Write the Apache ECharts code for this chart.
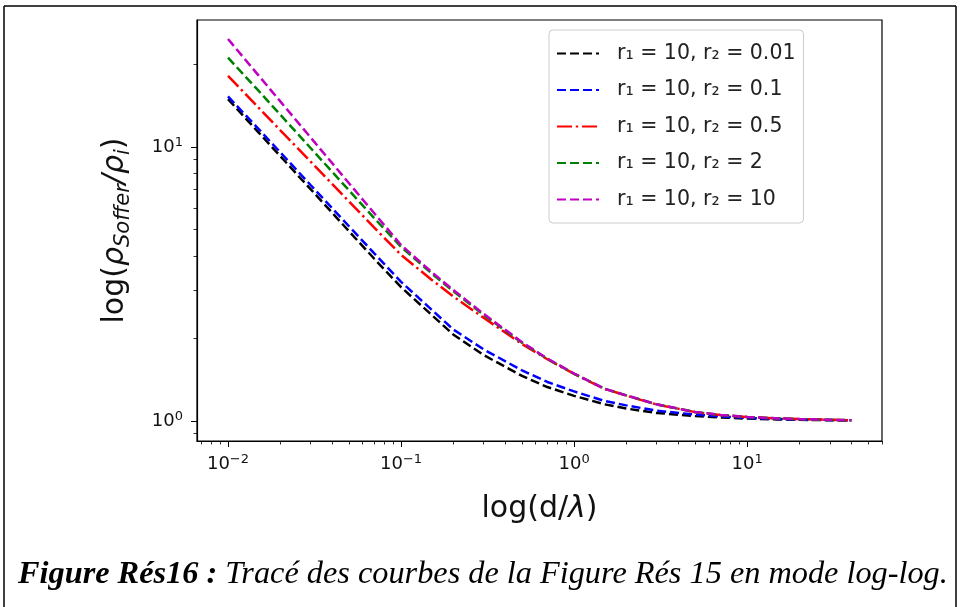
<!DOCTYPE html>
<html><head><meta charset="utf-8">
<script src="https://cdn.jsdelivr.net/npm/echarts@6/dist/echarts.min.js"></script>
<style>html,body{margin:0;padding:0;background:#fff}#c{width:960px;height:607px}</style>
</head><body><div id="c"></div>
<script>
const xValues = [0.01,0.015,0.02,0.03,0.05,0.07,0.1,0.15,0.2,0.3,0.5,0.7,1,1.5,2,3,5,7,10,15,20,30,40];
const seriesNames = ['r₁ = 10, r₂ = 0.01','r₁ = 10, r₂ = 0.1','r₁ = 10, r₂ = 0.5','r₁ = 10, r₂ = 2','r₁ = 10, r₂ = 10'];
const black   = [14.96,11.32,9.28,7.02,4.93,3.91,3.08,2.44,2.07,1.74,1.46,1.33,1.235,1.15,1.11,1.07,1.042,1.03,1.02,1.013,1.01,1.006,1.004];
const blue    = [15.3,11.65,9.58,7.27,5.14,4.09,3.22,2.55,2.16,1.825,1.53,1.388,1.282,1.183,1.14,1.09,1.055,1.038,1.025,1.017,1.013,1.008,1.005];
const red     = [18.2,13.93,11.53,8.85,6.33,5.08,4.04,3.28,2.85,2.38,1.91,1.68,1.485,1.31,1.238,1.148,1.077,1.051,1.033,1.022,1.016,1.01,1.006];
const green   = [21.2,16.06,13.15,9.92,6.95,5.50,4.32,3.46,2.98,2.44,1.93,1.685,1.487,1.31,1.24,1.15,1.078,1.052,1.034,1.022,1.016,1.01,1.006];
const magenta = [24.8,18.27,14.71,10.84,7.38,5.73,4.39,3.50,3.01,2.46,1.94,1.69,1.49,1.31,1.24,1.15,1.078,1.052,1.034,1.022,1.016,1.01,1.006];
const xMajorTicks = [0.01,0.1,1,10];
const xMinorTicks = [0.007,0.008,0.009,0.02,0.03,0.04,0.05,0.06,0.07,0.08,0.09,0.2,0.3,0.4,0.5,0.6,0.7,0.8,0.9,2,3,4,5,6,7,8,9,20,30,40,50,60];
const yMajorTicks = [1,10];
const yMinorTicks = [0.9,2,3,4,5,6,7,8,9,20];
const captionBold = 'Figure Rés16 :';
const captionText = 'Tracé des courbes de la Figure Rés 15 en mode log-log.';

const allY = [black, blue, red, green, magenta];
const colors = ['#000000','#0000ff','#ff0000','#008000','#bf00bf'];
const dashes = [[9,4],[9,4],[15,3.8,2.4,3.8],[9,4],[9,4]];

const chart = echarts.init(document.getElementById('c'));
const F = 'DejaVu Sans';
const supFmt = v => {
  const e = Math.round(Math.log10(v));
  return '10{s|' + (e < 0 ? '\u2212' + (-e) : e) + '}';
};
const labelRich = { s: { fontFamily: F, fontSize: 13, color: '#111', verticalAlign: 'top', lineHeight: 13 } };

const series = allY.map((ys, i) => ({
  name: seriesNames[i], type: 'line', xAxisIndex: 0, yAxisIndex: 0,
  symbol: 'none', showSymbol: false, smooth: false,
  data: xValues.map((x, j) => [x, ys[j]]),
  lineStyle: { color: colors[i], width: 2.5, type: dashes[i] },
  itemStyle: { color: colors[i] },
  z: 2 + i
}));

const xMin = 0.00662, xMax = 60.1, yMin = 0.845, yMax = 29.1;
chart.setOption({
  animation: false,
  backgroundColor: '#fff',
  grid: { left: 197, right: 78, top: 20, bottom: 166, show: true, borderColor: '#000', borderWidth: 1.2, backgroundColor: 'transparent' },
  legend: {
    orient: 'vertical', left: 549, top: 30,
    padding: [13, 8, 13, 7],
    itemWidth: 42, itemHeight: 14, itemGap: 15.5,
    itemStyle: { opacity: 0 },
    backgroundColor: '#fff', borderColor: '#cccccc', borderWidth: 1, borderRadius: 4,
    textStyle: { fontFamily: F, fontSize: 20.5, color: '#222', lineHeight: 20, padding: [0, 0, 0, 13] },
    data: seriesNames
  },
  xAxis: [
    { type: 'log', logBase: 10, min: xMin, max: xMax, position: 'bottom',
      axisLine: { show: true, lineStyle: { color: '#000', width: 1.2 } },
      axisTick: { show: true, length: 6, customValues: xMajorTicks, lineStyle: { color: '#000', width: 1 } },
      axisLabel: { show: true, customValues: xMajorTicks, formatter: supFmt, margin: 12, fontFamily: F, fontSize: 18, color: '#111', lineHeight: 22, rich: labelRich },
      splitLine: { show: false },
      name: 'log(d/{i|λ})', nameLocation: 'middle', nameGap: 53,
      nameTextStyle: { fontFamily: F, fontSize: 30, color: '#111', rich: { i: { fontFamily: F, fontSize: 30, fontStyle: 'italic', color: '#111' } } }
    },
    { type: 'log', logBase: 10, min: xMin, max: xMax, position: 'bottom',
      axisLine: { show: false },
      axisTick: { show: true, length: 3.5, customValues: xMinorTicks, lineStyle: { color: '#000', width: 0.8 } },
      axisLabel: { show: false }, splitLine: { show: false }
    }
  ],
  yAxis: [
    { type: 'log', logBase: 10, min: yMin, max: yMax, position: 'left',
      axisLine: { show: true, lineStyle: { color: '#000', width: 1.2 } },
      axisTick: { show: true, length: 6, customValues: yMajorTicks, lineStyle: { color: '#000', width: 1 } },
      axisLabel: { show: true, customValues: yMajorTicks, formatter: supFmt, margin: 14, fontFamily: F, fontSize: 18, color: '#111', lineHeight: 22, rich: labelRich },
      splitLine: { show: false },
      name: 'log({i|ρ}{s|Soffer}{i|/ρ}{s|i})', nameLocation: 'middle', nameGap: 63, nameRotate: 90,
      nameTextStyle: { fontFamily: F, fontSize: 30, color: '#111', lineHeight: 38,
        rich: { i: { fontFamily: F, fontSize: 30, fontStyle: 'italic', color: '#111', lineHeight: 38 },
                s: { fontFamily: F, fontSize: 21, fontStyle: 'italic', color: '#111', verticalAlign: 'bottom', lineHeight: 27 } } }
    },
    { type: 'log', logBase: 10, min: yMin, max: yMax, position: 'left',
      axisLine: { show: false },
      axisTick: { show: true, length: 3.5, customValues: yMinorTicks, lineStyle: { color: '#000', width: 0.8 } },
      axisLabel: { show: false }, splitLine: { show: false }
    }
  ],
  series: series,
  graphic: [
    { type: 'line', shape: { x1: 4, y1: 6, x2: 956, y2: 6 }, style: { stroke: '#000', lineWidth: 1.5 }, silent: true },
    { type: 'line', shape: { x1: 4, y1: 6, x2: 4, y2: 607 }, style: { stroke: '#000', lineWidth: 1.5 }, silent: true },
    { type: 'line', shape: { x1: 956, y1: 6, x2: 956, y2: 607 }, style: { stroke: '#000', lineWidth: 1.5 }, silent: true },
    { type: 'text', left: 18, top: 559, silent: true,
      style: {
        text: '{b|' + captionBold + '} {n|' + captionText + '}',
        rich: {
          b: { fontFamily: 'Liberation Serif', fontSize: 32.3, fontWeight: 'bold', fontStyle: 'italic', fill: '#000' },
          n: { fontFamily: 'Liberation Serif', fontSize: 32.3, fontStyle: 'italic', fill: '#000' }
        },
        font: 'italic 32px "Liberation Serif"', fill: '#000'
      }
    }
  ]
});
</script>
</body></html>
